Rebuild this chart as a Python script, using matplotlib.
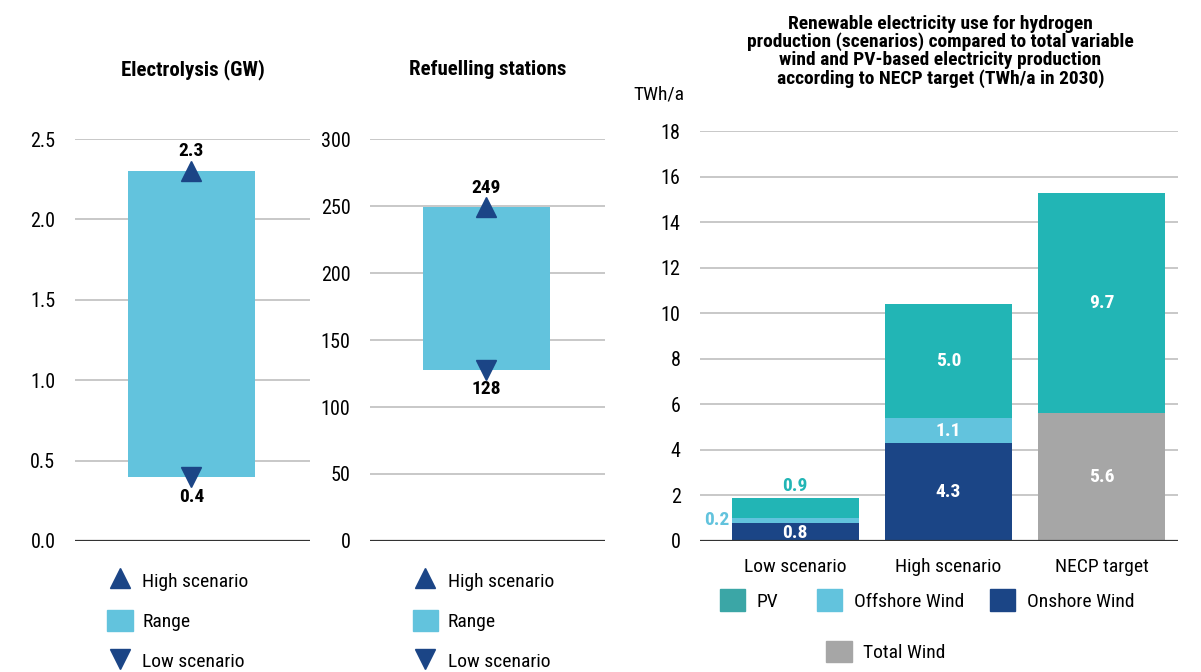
import matplotlib
matplotlib.use("Agg")
import matplotlib.pyplot as plt
from matplotlib.lines import Line2D
from matplotlib.patches import Patch

plt.rcParams['font.family'] = ['Roboto Condensed', 'DejaVu Sans']

# data
electro_low, electro_high = 0.4, 2.3
station_low, station_high = 128, 249

cats = ['Low scenario', 'High scenario', 'NECP target']
onshore = [0.8, 4.3, 0]
offshore = [0.2, 1.1, 0]
total_wind = [0, 0, 5.6]
pv = [0.9, 5.0, 9.7]

c_range = '#62C3DD'
c_navy = '#1B4586'
c_pv = '#22B5B5'
c_pv_leg = '#3BA6A6'
c_grey = '#A6A6A6'
c_grid = '#BFBFBF'
fs = 14

fig = plt.figure(figsize=(12.01, 6.72), dpi=100)


def style(ax):
    for s in ['left', 'right', 'top', 'bottom']:
        ax.spines[s].set_visible(False)
    ax.yaxis.grid(True, color=c_grid, lw=1.2)
    ax.set_axisbelow(True)
    ax.tick_params(axis='y', length=0, labelsize=fs + 0.5, pad=14)
    ax.axhline(0, color='#333333', lw=1.6, zorder=5)


def range_panel(rect, low, high, ticks, title, fmt, off):
    ax = fig.add_axes(rect)
    style(ax)
    ax.bar(0, high - low, bottom=low, width=1.09, color=c_range, zorder=2)
    ax.plot(0, high, marker='^', ms=15, color=c_navy, ls='none', zorder=3)
    ax.plot(0, low, marker='v', ms=15, color=c_navy, ls='none', zorder=3)
    ax.text(0, high + off, fmt.format(high), ha='center', va='bottom',
            fontsize=fs, fontweight='bold')
    ax.text(0, low - off, fmt.format(low), ha='center', va='top',
            fontsize=fs, fontweight='bold')
    ax.set_xlim(-1, 1.02)
    ax.set_ylim(0, ticks[-1])
    ax.set_yticks(ticks)
    ax.set_xticks([])
    ax.set_title(title, fontsize=15, fontweight='bold', pad=46)
    return ax


ax1 = range_panel([0.0624, 0.195, 0.196, 0.598], electro_low, electro_high,
                  [0, 0.5, 1.0, 1.5, 2.0, 2.5], 'Electrolysis (GW)', '{:.1f}', 0.07)
ax1.set_yticklabels(['0.0', '0.5', '1.0', '1.5', '2.0', '2.5'])
ax2 = range_panel([0.308, 0.195, 0.196, 0.598], station_low, station_high,
                  [0, 50, 100, 150, 200, 250, 300], 'Refuelling stations', '{:d}', 8)

rng_handles = [
    Line2D([], [], marker='^', color=c_navy, ls='none', ms=15),
    Patch(color=c_range),
    Line2D([], [], marker='v', color=c_navy, ls='none', ms=15),
]
rng_labels = ['High scenario', 'Range', 'Low scenario']
for x0 in [0.083, 0.337]:
    fig.legend(rng_handles, rng_labels, loc='upper left', bbox_to_anchor=(x0, 0.164),
               frameon=False, fontsize=fs, labelspacing=0.98, handlelength=1.3,
               handleheight=1.3, handletextpad=0.5, borderaxespad=0)

# stacked bars
ax3 = fig.add_axes([0.583, 0.195, 0.398, 0.61])
style(ax3)
x = range(len(cats))
w = 0.83
b_off = [a for a in onshore]
b_tw = [a + b for a, b in zip(b_off, offshore)]
b_pv = [a + b for a, b in zip(b_tw, total_wind)]
ax3.bar(x, onshore, width=w, color=c_navy, zorder=2)
ax3.bar(x, offshore, bottom=b_off, width=w, color=c_range, zorder=2)
ax3.bar(x, total_wind, bottom=b_tw, width=w, color=c_grey, zorder=2)
ax3.bar(x, pv, bottom=b_pv, width=w, color=c_pv, zorder=2)
ax3.set_xlim(-0.62, 2.5)
ax3.set_ylim(0, 18)
ax3.set_yticks(range(0, 19, 2))
ax3.set_xticks(list(x))
ax3.set_xticklabels(cats)
ax3.tick_params(axis='x', length=0, labelsize=fs, pad=12)

lab = dict(fontsize=fs, fontweight='bold', ha='center', va='center', zorder=6)
# low scenario labels
ax3.text(0, onshore[0] / 2 - 0.05, f'{onshore[0]:.1f}', color='white', **lab)
ax3.text(-0.43, b_off[0] + offshore[0] / 2, f'{offshore[0]:.1f}', color=c_range,
         fontsize=fs, fontweight='bold', ha='right', va='center', zorder=6)
ax3.text(0, b_pv[0] + pv[0] + 0.5, f'{pv[0]:.1f}', color=c_pv, **lab)
for i in [1, 2]:
    if onshore[i]:
        ax3.text(i, onshore[i] / 2, f'{onshore[i]:.1f}', color='white', **lab)
    if offshore[i]:
        ax3.text(i, b_off[i] + offshore[i] / 2, f'{offshore[i]:.1f}', color='white', **lab)
    if total_wind[i]:
        ax3.text(i, b_tw[i] + total_wind[i] / 2, f'{total_wind[i]:.1f}', color='white', **lab)
    ax3.text(i, b_pv[i] + pv[i] / 2, f'{pv[i]:.1f}', color='white', **lab)

ax3.text(-0.72, 19.6, 'TWh/a', fontsize=fs, ha='right', va='center')
fig.text(0.783, 0.978, 'Renewable electricity use for hydrogen\n'
         'production (scenarios) compared to total variable\n'
         'wind and PV-based electricity production\n'
         'according to NECP target (TWh/a in 2030)',
         ha='center', va='top', fontsize=14, fontweight='bold', linespacing=0.98)

leg_items = [
    (c_pv_leg, 'PV', 0.5995, 0.107),
    (c_range, 'Offshore Wind', 0.680, 0.107),
    (c_navy, 'Onshore Wind', 0.824, 0.107),
    (c_grey, 'Total Wind', 0.688, 0.031),
]
for col, name, lx, ly in leg_items:
    fig.legend([Patch(color=col)], [name], loc='center left',
               bbox_to_anchor=(lx, ly), frameon=False, fontsize=fs,
               handlelength=1.3, handleheight=1.3, handletextpad=0.6,
               borderaxespad=0, borderpad=0)

fig.savefig('out.png', dpi=100)
